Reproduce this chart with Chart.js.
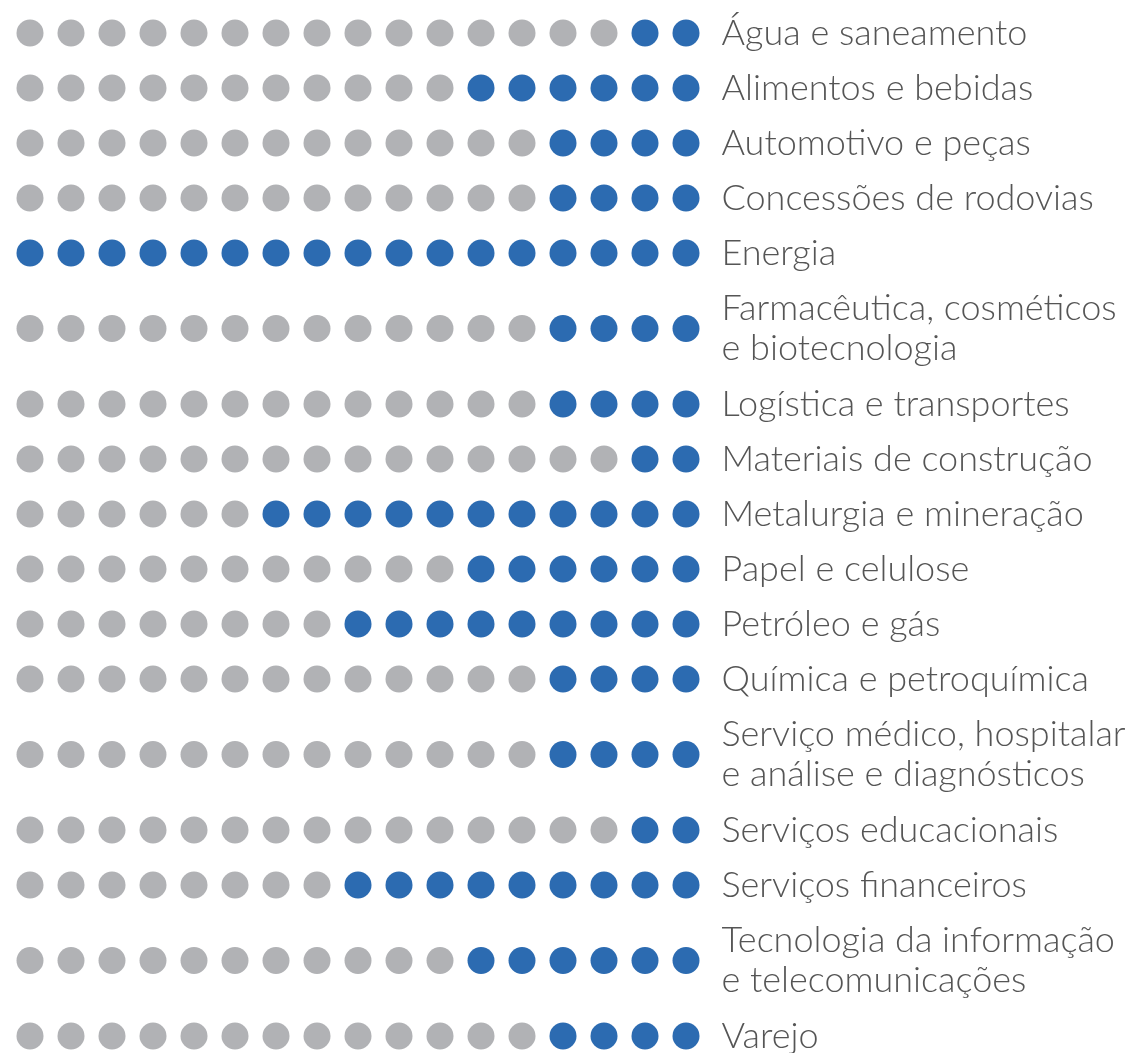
<!DOCTYPE html>
<html>
<head>
<meta charset="utf-8">
<script src="https://cdn.jsdelivr.net/npm/chart.js@4"></script>
<style>
  body { margin: 0; background: #fff; }
  #wrap { width: 1130px; height: 1053px; }
</style>
</head>
<body>
<div id="wrap"><canvas id="dots" width="1130" height="1053"></canvas></div>
<script>
// sectors, top to bottom (arrays = two-line labels)
const sectors = [
  "Água e saneamento",
  "Alimentos e bebidas",
  "Automotivo e peças",
  "Concessões de rodovias",
  "Energia",
  ["Farmacêutica, cosméticos", "e biotecnologia"],
  "Logística e transportes",
  "Materiais de construção",
  "Metalurgia e mineração",
  "Papel e celulose",
  "Petróleo e gás",
  "Química e petroquímica",
  ["Serviço médico, hospitalar", "e análise e diagnósticos"],
  "Serviços educacionais",
  "Serviços financeiros",
  ["Tecnologia da informação", "e telecomunicações"],
  "Varejo"
];
// number of highlighted (blue) dots per sector, counted from the right
const highlighted = [2, 6, 4, 4, 17, 4, 4, 2, 11, 6, 9, 4, 4, 2, 9, 6, 4];
const totalDots = 17;

const GRAY = "#b1b2b5";
const BLUE = "#2c6bb1";

// row centres: single rows 55 apart, two-line rows get extra room
const rowPos = [];
sectors.forEach((s, i) => {
  if (i === 0) { rowPos.push(0); return; }
  const extra = (Array.isArray(sectors[i - 1]) ? 20.5 : 0) + (Array.isArray(s) ? 20.5 : 0);
  rowPos.push(rowPos[i - 1] + 55 + extra);
});

const grayPts = [], bluePts = [];
sectors.forEach((s, i) => {
  for (let k = 1; k <= totalDots; k++) {
    const pt = { x: k, y: rowPos[i] };
    if (k > totalDots - highlighted[i]) bluePts.push(pt); else grayPts.push(pt);
  }
});

const ctx = document.getElementById("dots").getContext("2d");
new Chart(ctx, {
  type: "scatter",
  data: {
    datasets: [
      { data: grayPts, backgroundColor: GRAY, pointRadius: 13.5, pointBorderWidth: 0, pointHoverRadius: 13.5 },
      { data: bluePts, backgroundColor: BLUE, pointRadius: 13.5, pointBorderWidth: 0, pointHoverRadius: 13.5 }
    ]
  },
  options: {
    responsive: false,
    animation: false,
    layout: { autoPadding: false, padding: { left: 9.5, right: 0, top: 0, bottom: 0 } },
    plugins: { legend: { display: false }, tooltip: { enabled: false } },
    scales: {
      x: { type: "linear", min: 0.5, max: totalDots + 0.5, display: false },
      y: {
        type: "linear",
        position: "right",
        reverse: true,
        min: -33,
        max: 1020,
        grid: { display: false, drawTicks: false },
        border: { display: false },
        afterBuildTicks: (scale) => { scale.ticks = rowPos.map(v => ({ value: v })); },
        afterFit: (scale) => {
          scale.width = 1130 - 706.5;
          scale.paddingTop = 0;
          scale.paddingBottom = 0;
        },
        ticks: {
          autoSkip: false,
          padding: 15,
          color: "#555555",
          font: { family: "Lato", weight: 300, size: 36, lineHeight: 1.12 },
          callback: (v, i) => sectors[i]
        }
      }
    }
  }
});
</script>
</body>
</html>
